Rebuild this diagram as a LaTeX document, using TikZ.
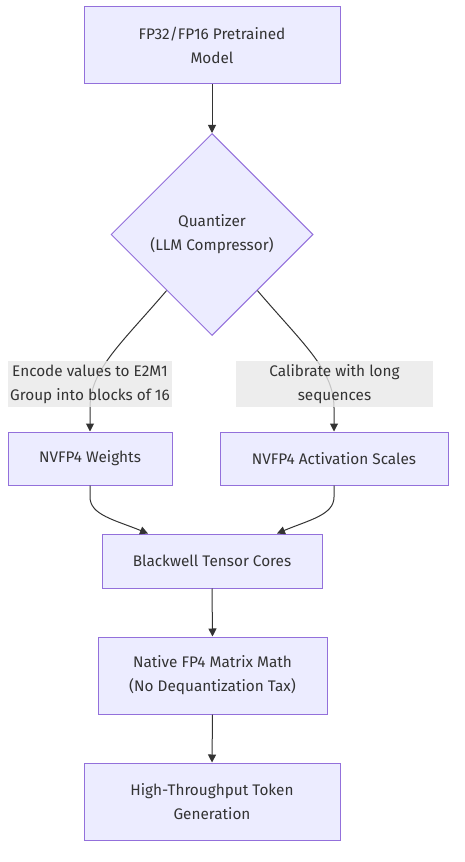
\documentclass[tikz,border=0pt]{standalone}
\usepackage{fontspec}
\setmainfont{Fira Sans}
\usetikzlibrary{shapes.geometric,arrows.meta}
\definecolor{nodefill}{HTML}{ECECFF}
\definecolor{nodeline}{HTML}{9370DB}
\definecolor{txt}{HTML}{333333}
\definecolor{labfill}{HTML}{E8E8E8}
\tikzset{
  box/.style={draw=nodeline, fill=nodefill, line width=0.75pt, text=txt, align=center,
    inner sep=0pt, font=\fontsize{11.5pt}{18pt}\selectfont},
  dia/.style={diamond, draw=nodeline, fill=nodefill, line width=0.75pt, text=txt, align=center,
    inner sep=0pt, aspect=1, font=\fontsize{11.5pt}{18pt}\selectfont},
  lab/.style={fill=labfill, fill opacity=0.8, text opacity=1, text=txt, align=center,
    inner sep=0pt, font=\fontsize{11.5pt}{18pt}\selectfont},
  conn/.style={draw=txt, line width=0.75pt, -{Triangle[length=6pt,width=6pt]}},
}
\begin{document}
\begin{tikzpicture}[x=0.75pt,y=-0.75pt]
\useasboundingbox (0,0) rectangle (464,862);
\node[box, minimum width=256*0.75pt, minimum height=77*0.75pt] (m1) at (212,45.5) {FP32/FP16 Pretrained\\Model};
\node[dia, minimum width=202*0.75pt, minimum height=202*0.75pt] (q) at (212,234.5) {Quantizer\\(LLM Compressor)};
\node[box, minimum width=164*0.75pt, minimum height=53*0.75pt] (w) at (90,458.5) {NVFP4 Weights};
\node[box, minimum width=228*0.75pt, minimum height=53*0.75pt] (a) at (334,458.5) {NVFP4 Activation Scales};
\node[box, minimum width=220*0.75pt, minimum height=54*0.75pt] (b) at (212,561) {Blackwell Tensor Cores};
\node[box, minimum width=229*0.75pt, minimum height=77*0.75pt] (n) at (212.5,675.5) {Native FP4 Matrix Math\\(No Dequantization Tax)};
\node[box, minimum width=256*0.75pt, minimum height=77*0.75pt] (h) at (212,801.5) {High-Throughput Token\\Generation};

\coordinate (l1) at (90,408);
\coordinate (r1) at (334,408);
\coordinate (wb) at (90,497);
\coordinate (ab) at (334,497);

\draw[conn] (m1.south) -- (q.north);
\draw[conn] (q.231) .. controls (120,345) and (90,370) .. (l1) -- (w.north);
\draw[conn] (q.309) .. controls (304,345) and (334,370) .. (r1) -- (a.north);
\draw[conn] (w.south) -- (wb) .. controls (90,515) and (115,520) .. ([xshift=-64*0.75pt]b.north);
\draw[conn] (a.south) -- (ab) .. controls (334,515) and (309,520) .. ([xshift=65*0.75pt]b.north);
\draw[conn] (b.south) -- (n.north);
\draw[conn] (n.south) -- (h.north);

\node[lab, minimum width=164*0.75pt, minimum height=46*0.75pt] (lab1) at (90,384) {Encode values to E2M1\\Group into blocks of 16};
\node[lab, minimum width=197*0.75pt, minimum height=46*0.75pt] (lab2) at (334.5,384) {Calibrate with long\\sequences};
\end{tikzpicture}
\end{document}
